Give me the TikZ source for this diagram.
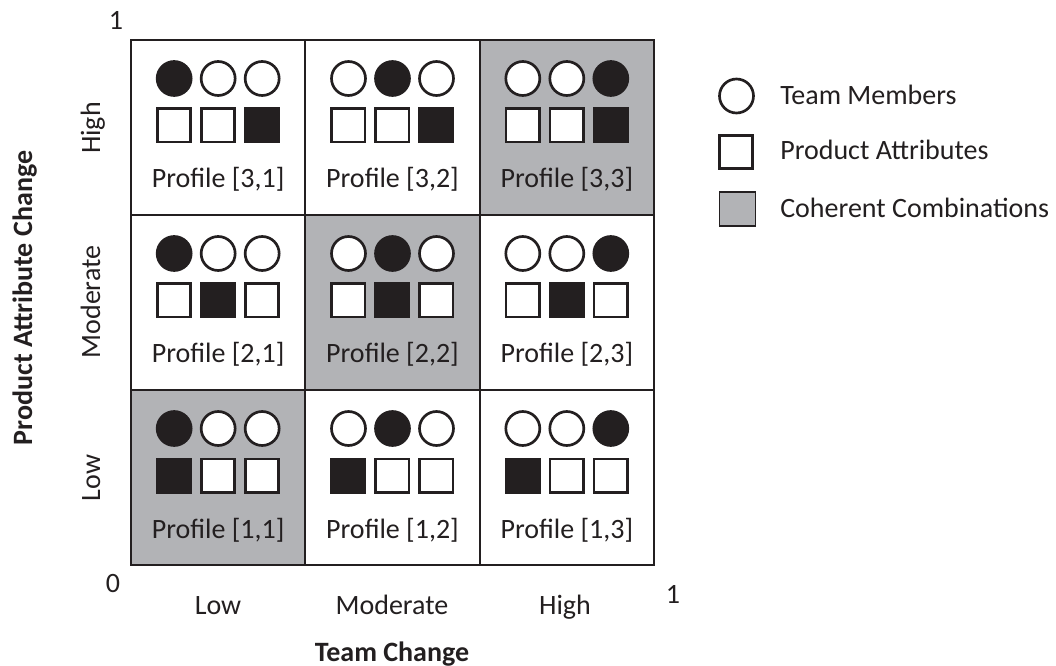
\documentclass[tikz,border=0pt]{standalone}
\usepackage{fontspec}
\setmainfont{Carlito}
\definecolor{ink}{RGB}{35,31,32}
\definecolor{shade}{RGB}{178,179,182}
\tikzset{
	cellbox/.style={draw=ink, line width=1.5pt, minimum width=130.75pt, minimum height=131.25pt, inner sep=0pt},
	member/.style={circle, draw=ink, line width=2pt, minimum size=25.5pt, inner sep=0pt},
	attribute/.style={rectangle, draw=ink, line width=2pt, minimum size=25pt, inner sep=0pt},
	txt/.style={font=\fontsize{21}{25}\selectfont, text=ink, inner sep=0pt},
	bold/.style={txt, font=\fontsize{21}{25}\selectfont\bfseries}
}
\begin{document}
\begin{tikzpicture}[x=0.75pt,y=-0.75pt]
	\useasboundingbox (0,0) rectangle (1056,666);
	% profile grid, r = product attribute level, c = team level
	\foreach \r in {1,2,3}{
		\foreach \c in {1,2,3}{
			\ifnum\r=\c \def\cfill{shade}\else\def\cfill{white}\fi
			\node[cellbox, fill=\cfill] (c\r\c) at (131+174.33*\c-87.17, 40+175*3-175*\r+87.5) {};
			\foreach \k in {1,2,3}{
				\ifnum\k=\c \def\mfill{ink}\else\def\mfill{white}\fi
				\ifnum\k=\r \def\afill{ink}\else\def\afill{white}\fi
				\node[member, fill=\mfill] (m\r\c\k) at ([shift={(44*\k-88,-49)}]c\r\c.center) {};
				\node[attribute, fill=\afill] (a\r\c\k) at ([shift={(44*\k-88,-2)}]c\r\c.center) {};
			}
			\node[txt, anchor=base] (p\r\c) at ([shift={(0,60.5)}]c\r\c.center) {Profile [\r,\c]};
		}
	}
	% axes
	\node[txt, anchor=base] (ytop) at (116,30) {1};
	\node[txt, anchor=base] (orig) at (113,592) {0};
	\node[txt, anchor=base] (xend) at (673,603) {1};
	\node[txt, anchor=base] (xlow) at (218,614) {Low};
	\node[txt, anchor=base] (xmod) at (392,614) {Moderate};
	\node[txt, anchor=base] (xhigh) at (565,614) {High};
	\node[bold, anchor=base] (xtitle) at (392,661) {Team Change};
	\node[txt, anchor=base, rotate=90] (ylow) at (100,478) {Low};
	\node[txt, anchor=base, rotate=90] (ymod) at (100,302) {Moderate};
	\node[txt, anchor=base, rotate=90] (yhigh) at (100,128) {High};
	\node[bold, anchor=base, rotate=90] (ytitle) at (32,298) {Product Attribute Change};
	% legend
	\node[member, fill=white] (keymember) at (736.5,96) {};
	\node[attribute, fill=white] (keyattr) at (736,152) {};
	\node[rectangle, draw=ink, line width=0.8pt, fill=shade, minimum width=27.5pt, minimum height=25.5pt, inner sep=0pt] (keyshade) at (737.5,209) {};
	\node[txt, anchor=base west] (lmember) at (780,105) {Team Members};
	\node[txt, anchor=base west] (lattr) at (780,160) {Product Attributes};
	\node[txt, anchor=base west] (lshade) at (780,218) {Coherent Combinations};
\end{tikzpicture}
\end{document}
